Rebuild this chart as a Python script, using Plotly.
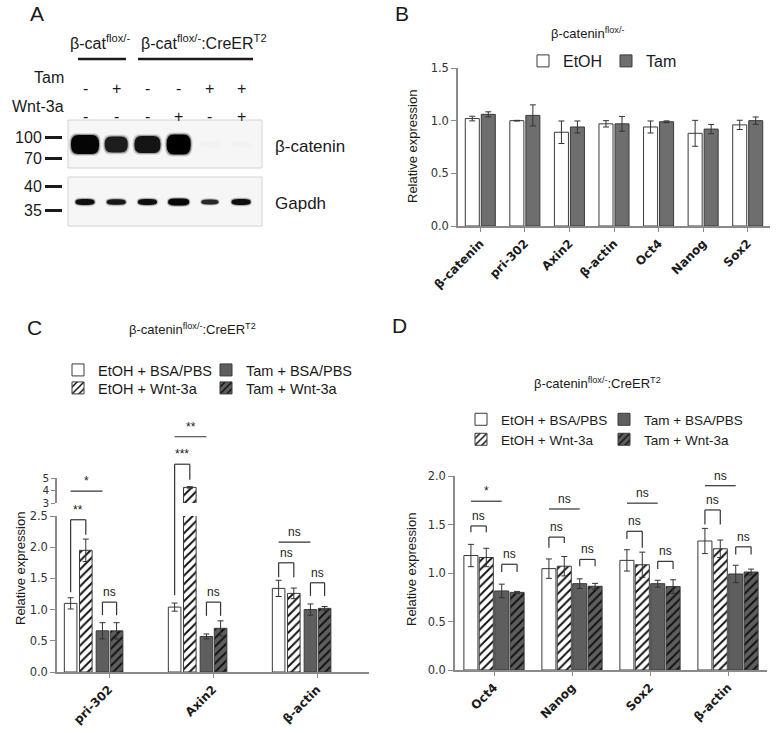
import math
import plotly.graph_objects as go

W, H = 780, 733

# ======================= DATA =======================
# Panel A - western blot, lanes 1..6
lanes = [1, 2, 3, 4, 5, 6]
tam_signs = ['-', '+', '-', '-', '+', '+']
wnt_signs = ['-', '-', '-', '+', '-', '+']
bcat_signal = [1.0, 0.85, 0.9, 1.05, 0.012, 0.012]
gapdh_signal = [0.85, 0.8, 0.85, 1.0, 0.7, 0.85]
bcat_mw = 88.0
gapdh_mw = 36.6
ladder_top = [100, 70]
ladder_bottom = [40, 35]

# Panel B
genes_B = ['β-catenin', 'pri-302', 'Axin2', 'β-actin', 'Oct4', 'Nanog', 'Sox2']
B_etoh = [1.02, 1.00, 0.89, 0.97, 0.94, 0.88, 0.96]
B_etoh_err = [0.022, 0.003, 0.107, 0.03, 0.057, 0.123, 0.044]
B_tam = [1.06, 1.05, 0.94, 0.97, 0.99, 0.92, 1.00]
B_tam_err = [0.024, 0.10, 0.057, 0.07, 0.008, 0.044, 0.035]

# Panel C
genes_C = ['pri-302', 'Axin2', 'β-actin']
C_etoh_bsa = [1.10, 1.04, 1.34]
C_etoh_bsa_err = [0.09, 0.065, 0.13]
C_etoh_wnt = [1.95, 4.25, 1.26]
C_etoh_wnt_err = [0.18, 0.06, 0.085]
C_tam_bsa = [0.66, 0.57, 1.00]
C_tam_bsa_err = [0.13, 0.04, 0.09]
C_tam_wnt = [0.66, 0.70, 1.02]
C_tam_wnt_err = [0.13, 0.12, 0.03]

# Panel D
genes_D = ['Oct4', 'Nanog', 'Sox2', 'β-actin']
D_etoh_bsa = [1.18, 1.045, 1.13, 1.33]
D_etoh_bsa_err = [0.115, 0.10, 0.11, 0.13]
D_etoh_wnt = [1.16, 1.07, 1.085, 1.25]
D_etoh_wnt_err = [0.095, 0.10, 0.13, 0.09]
D_tam_bsa = [0.815, 0.89, 0.89, 0.99]
D_tam_bsa_err = [0.07, 0.05, 0.035, 0.09]
D_tam_wnt = [0.80, 0.863, 0.86, 1.01]
D_tam_wnt_err = [0.01, 0.03, 0.07, 0.03]

series_names = ['EtOH + BSA/PBS', 'EtOH + Wnt-3a', 'Tam + BSA/PBS', 'Tam + Wnt-3a']

# significance marks: (category, bar i, bar j, label, level, leg_i, leg_j); legs None -> plain line
C_sig = [
    (0, 0, 1, '**', 2.44, 1.28, 2.20),
    (0, 0, 2, '*', 2.90, None, None),
    (0, 2, 3, 'ns', 1.12, 0.91, 0.91),
    (1, 0, 2, '**', 3.77, None, None),
    (1, 0, 1, '***', 3.33, 1.23, 3.08),
    (1, 2, 3, 'ns', 1.12, 0.90, 0.90),
    (2, 0, 2, 'ns', 2.08, None, None),
    (2, 0, 1, 'ns', 1.75, 1.52, 1.52),
    (2, 2, 3, 'ns', 1.43, 1.22, 1.22),
]
D_sig = [
    (0, 0, 2, '*', 1.74, None, None),
    (0, 0, 1, 'ns', 1.485, 1.42, 1.42),
    (0, 2, 3, 'ns', 1.09, 1.01, 1.01),
    (1, 0, 2, 'ns', 1.66, None, None),
    (1, 0, 1, 'ns', 1.37, 1.26, 1.31),
    (1, 2, 3, 'ns', 1.14, 1.07, 1.07),
    (2, 0, 2, 'ns', 1.72, None, None),
    (2, 0, 1, 'ns', 1.43, 1.35, 1.26),
    (2, 2, 3, 'ns', 1.12, 1.04, 1.04),
    (3, 0, 2, 'ns', 1.90, None, None),
    (3, 0, 1, 'ns', 1.65, 1.50, 1.50),
    (3, 2, 3, 'ns', 1.27, 1.19, 1.19),
]

# ======================= STYLE / GEOMETRY =======================
FONT = 'Liberation Sans, Arial, sans-serif'
TFONT = 'DejaVu Sans, Verdana, sans-serif'
AXC = '#8a8a8a'
INK = '#1a1a1a'
EDGE = '#3a3a3a'
LINEC = '#333333'

B_XPX, B_YPX, B_RANGE = (458, 770), (226, 68), (0, 1.5)
C_XPX, C_LOW_YPX, C_LOW_RANGE = (57, 369), (672, 516), (0, 2.5)
C_UP_YPX, C_UP_RANGE = (503, 478), (3, 5)
D_XPX, D_YPX, D_RANGE = (455, 767), (670, 476), (0, 2.0)

A_XPX = (63, 262)
A_LANE_RANGE = (0.295, 6.67)
A_TOP_YPX = (168, 120)
A_BOT_YPX = (226, 177)
A_TOP_RANGE = (1.7714, 2.1254)
A_BOT_RANGE = (1.5054, 1.6238)

B_width, B_offsets = 0.315, [-0.337, 0.022]
C_width, C_centers = 0.121, [-0.369, -0.223, -0.063, 0.073]
D_width, D_centers = 0.18, [-0.296, -0.099, 0.099, 0.296]


def xd(a, b):
    return [a / W, b / W]


def yd(bot, top):
    return [1 - bot / H, 1 - top / H]


def px(x):
    return x / W


def py(y):
    return 1 - y / H


fig = go.Figure()

ebar = dict(type='data', color=LINEC, thickness=1, width=3)


def style_for(k, tamcol):
    if k == 0:
        return dict(color='white', line=dict(color=EDGE, width=1))
    if k == 1:
        return dict(color='white', line=dict(color=EDGE, width=1),
                    pattern=dict(shape='/', fgcolor='#111111', bgcolor='white',
                                 size=6, solidity=0.32, fillmode='replace'))
    if k == 2:
        return dict(color=tamcol, line=dict(color=EDGE, width=1))
    return dict(color=tamcol, line=dict(color=EDGE, width=1),
                pattern=dict(shape='/', fgcolor='#111111', bgcolor=tamcol,
                             size=6, solidity=0.32, fillmode='replace'))


# ---------- Panel B bars ----------
for k, (nm, vals, errs, col) in enumerate([('EtOH', B_etoh, B_etoh_err, 'white'),
                                             ('Tam', B_tam, B_tam_err, '#6e6e6e')]):
    fig.add_trace(go.Bar(x=genes_B, y=vals, width=B_width, offset=B_offsets[k],
                         error_y=dict(ebar, array=errs), name=nm,
                         marker=dict(color=col, line=dict(color=EDGE, width=1)),
                         xaxis='x', yaxis='y', legend='legend'))

# ---------- Panel C bars (lower + upper broken axis) ----------
C_series = [(C_etoh_bsa, C_etoh_bsa_err), (C_etoh_wnt, C_etoh_wnt_err),
            (C_tam_bsa, C_tam_bsa_err), (C_tam_wnt, C_tam_wnt_err)]
C_leg = ['legend2', 'legend3', 'legend2', 'legend3']
for k, (vals, errs) in enumerate(C_series):
    mk = style_for(k, '#5e5e5e')
    off = C_centers[k] - C_width / 2
    fig.add_trace(go.Bar(x=genes_C, y=vals, width=C_width, offset=off,
                         error_y=dict(ebar, array=errs), name=series_names[k],
                         marker=mk, xaxis='x2', yaxis='y2', legend=C_leg[k]))
    fig.add_trace(go.Bar(x=genes_C, y=vals, width=C_width, offset=off,
                         error_y=dict(ebar, array=errs), name=series_names[k],
                         marker=mk, xaxis='x3', yaxis='y3', showlegend=False))

# ---------- Panel D bars ----------
D_series = [(D_etoh_bsa, D_etoh_bsa_err), (D_etoh_wnt, D_etoh_wnt_err),
            (D_tam_bsa, D_tam_bsa_err), (D_tam_wnt, D_tam_wnt_err)]
D_leg = ['legend4', 'legend5', 'legend4', 'legend5']
for k, (vals, errs) in enumerate(D_series):
    mk = style_for(k, '#5e5e5e')
    off = D_centers[k] - D_width / 2
    fig.add_trace(go.Bar(x=genes_D, y=vals, width=D_width, offset=off,
                         error_y=dict(ebar, array=errs), name=series_names[k],
                         marker=mk, xaxis='x4', yaxis='y4', legend=D_leg[k]))

# ---------- axes ----------
xcommon = dict(type='category', showline=True, linecolor=AXC, linewidth=1.5,
               ticks='outside', ticklen=4, tickcolor=AXC, tickangle=-45,
               tickfont=dict(family=TFONT, size=12, color=INK, weight='bold'),
               showgrid=False, zeroline=False, fixedrange=True, automargin=False)
ycommon = dict(showline=True, linecolor=AXC, linewidth=1.5, ticks='outside',
               ticklen=5, tickcolor=AXC, tickfont=dict(family=TFONT, size=11.5, color='#333'),
               showgrid=False, zeroline=False, fixedrange=True, automargin=False)
blotax = dict(ticks='outside', ticklen=17, tickwidth=3, tickcolor=INK, showline=False,
              showgrid=False, zeroline=False, tickfont=dict(family=FONT, size=16, color=INK),
              fixedrange=True, automargin=False)

fig.update_layout(
    xaxis=dict(xcommon, domain=xd(*B_XPX), anchor='y', range=[-0.5, 6.5],
               categoryorder='array', categoryarray=genes_B),
    yaxis=dict(ycommon, domain=yd(*B_YPX), anchor='x', range=list(B_RANGE),
               tickvals=[0, 0.5, 1.0, 1.5], tickformat='.1f'),
    xaxis2=dict(xcommon, domain=xd(*C_XPX), anchor='y2', range=[-0.5, 2.5],
                categoryorder='array', categoryarray=genes_C),
    yaxis2=dict(ycommon, domain=yd(*C_LOW_YPX), anchor='x2', range=list(C_LOW_RANGE),
                tickvals=[0, 0.5, 1.0, 1.5, 2.0, 2.5], tickformat='.1f'),
    xaxis3=dict(xcommon, domain=xd(*C_XPX), anchor='y3', range=[-0.5, 2.5],
                categoryorder='array', categoryarray=genes_C, visible=False),
    yaxis3=dict(ycommon, domain=yd(*C_UP_YPX), anchor='x3', range=list(C_UP_RANGE),
                tickvals=[3, 4, 5], tickformat='d', ticklen=4,
                tickfont=dict(family=TFONT, size=10.5, color='#333')),
    xaxis4=dict(xcommon, domain=xd(*D_XPX), anchor='y4', range=[-0.5, 3.5],
                categoryorder='array', categoryarray=genes_D),
    yaxis4=dict(ycommon, domain=yd(*D_YPX), anchor='x4', range=list(D_RANGE),
                tickvals=[0, 0.5, 1.0, 1.5, 2.0], tickformat='.1f'),
    xaxis5=dict(domain=xd(*A_XPX), anchor='y5', range=list(A_LANE_RANGE), visible=False,
                fixedrange=True, automargin=False),
    yaxis5=dict(blotax, domain=yd(*A_TOP_YPX), anchor='x5', range=list(A_TOP_RANGE),
                tickvals=[math.log10(v) for v in ladder_top],
                ticktext=[str(v) for v in ladder_top]),
    yaxis6=dict(blotax, domain=yd(*A_BOT_YPX), anchor='x5', range=list(A_BOT_RANGE),
                tickvals=[math.log10(v) for v in ladder_bottom],
                ticktext=[str(v) for v in ladder_bottom]),
)

# ---------- legends ----------
leg_common = dict(orientation='h', xanchor='left', yanchor='top', bgcolor='rgba(0,0,0,0)',
                  borderwidth=0, entrywidthmode='pixels')
fig.update_layout(
    legend=dict(leg_common, x=px(523), y=py(44), entrywidth=38,
                font=dict(family=FONT, size=16, color=INK)),
    legend2=dict(leg_common, x=px(58), y=py(354), entrywidth=103,
                 font=dict(family=FONT, size=14.5, color=INK)),
    legend3=dict(leg_common, x=px(58), y=py(372), entrywidth=103,
                 font=dict(family=FONT, size=14.5, color=INK)),
    legend4=dict(leg_common, x=px(461), y=py(404), entrywidth=98,
                 font=dict(family=FONT, size=13.5, color=INK)),
    legend5=dict(leg_common, x=px(461), y=py(424), entrywidth=98,
                 font=dict(family=FONT, size=13.5, color=INK)),
)

# ---------- significance brackets ----------
def add_sig(sig, xref, centers, ypx, yrange):
    ybot, ytop = ypx
    r0, r1 = yrange

    def yp(v):
        return py(ybot - (v - r0) / (r1 - r0) * (ybot - ytop))

    ln = dict(color=LINEC, width=1.2)
    for cat, i, j, lab, lev, li, lj in sig:
        xi, xj = cat + centers[i], cat + centers[j]
        fig.add_shape(type='line', xref=xref, yref='paper', x0=xi, x1=xj,
                      y0=yp(lev), y1=yp(lev), line=ln)
        if li is not None:
            fig.add_shape(type='line', xref=xref, yref='paper', x0=xi, x1=xi,
                          y0=yp(li), y1=yp(lev), line=ln)
            fig.add_shape(type='line', xref=xref, yref='paper', x0=xj, x1=xj,
                          y0=yp(lj), y1=yp(lev), line=ln)
        fig.add_annotation(x=(xi + xj) / 2, xref=xref, y=yp(lev) + 1.0 / H, yref='paper',
                           yanchor='bottom', text=lab, showarrow=False,
                           font=dict(family=FONT, size=12, color=INK))


add_sig(C_sig, 'x2', C_centers, C_LOW_YPX, C_LOW_RANGE)
add_sig(D_sig, 'x4', D_centers, D_YPX, D_RANGE)

# ---------- Panel A blot ----------
for (bot, top) in [(168, 120), (226, 177)]:
    fig.add_shape(type='rect', xref='paper', yref='paper', x0=px(68), x1=px(262),
                  y0=py(bot), y1=py(top), fillcolor='#f6f6f6',
                  line=dict(color='#d4d4d4', width=1), layer='below')

lane_px = (A_XPX[1] - A_XPX[0]) / (A_LANE_RANGE[1] - A_LANE_RANGE[0])
bcat_w_px = [28, 23, 26, 24, 20, 20]
gapdh_w_px = [19, 19, 19, 21, 17, 19]


def band(yref, ypx, yrange, lane, mw, wpx, hpx, alpha):
    unit_px = (ypx[0] - ypx[1]) / (yrange[1] - yrange[0])
    yc = math.log10(mw)
    hw = wpx / 2 / lane_px
    hh = hpx / 2 / unit_px
    rx = min(wpx / 2, 7) / lane_px
    ry = hh * 0.9
    x0, x1 = lane - hw, lane + hw
    y0, y1 = yc - hh, yc + hh
    path = (f'M {x0 + rx},{y0} L {x1 - rx},{y0} Q {x1},{y0} {x1},{y0 + ry} '
            f'L {x1},{y1 - ry} Q {x1},{y1} {x1 - rx},{y1} L {x0 + rx},{y1} '
            f'Q {x0},{y1} {x0},{y1 - ry} L {x0},{y0 + ry} Q {x0},{y0} {x0 + rx},{y0} Z')
    fig.add_shape(type='path', xref='x5', yref=yref, path=path, fillcolor='black',
                  line=dict(width=0), opacity=max(0.0, min(1.0, alpha)))


for li, lane in enumerate(lanes):
    s = bcat_signal[li]
    for grow, a in [(2, 0.12), (1, 0.3), (0, 0.97)]:
        band('y5', A_TOP_YPX, A_TOP_RANGE, lane, bcat_mw, bcat_w_px[li] + 2 * grow,
             19 * max(s, 0.3) + 2 * grow, a * s)
    g = gapdh_signal[li]
    for grow, a in [(1.5, 0.12), (0.7, 0.3), (0, 0.95)]:
        band('y6', A_BOT_YPX, A_BOT_RANGE, lane, gapdh_mw, gapdh_w_px[li] + 2 * grow,
             7 * g + 2 * grow, a * min(1, g + 0.1))

# lane treatment signs
for li, lane in enumerate(lanes):
    for sign, yy in [(tam_signs[li], 78), (wnt_signs[li], 106)]:
        fig.add_annotation(x=lane, xref='x5', y=py(yy), yref='paper', text=sign,
                           showarrow=False, font=dict(family=FONT, size=16, color=INK))


def txt(x, y, text, size, xanchor='center', angle=0, color=INK):
    fig.add_annotation(x=px(x), y=py(y), xref='paper', yref='paper', text=text,
                       showarrow=False, xanchor=xanchor, yanchor='middle', textangle=angle,
                       font=dict(family=FONT, size=size, color=color))


txt(66, 78, 'Tam', 16, 'right')
txt(66, 106, 'Wnt-3a', 16, 'right')
txt(100, 42, 'β-cat<sup>flox/-</sup>', 16)
txt(204, 42, 'β-cat<sup>flox/-</sup>:CreER<sup>T2</sup>', 16)
for x0, x1 in [(78, 126), (138, 253)]:
    fig.add_shape(type='line', xref='paper', yref='paper', x0=px(x0), x1=px(x1),
                  y0=py(59), y1=py(59), line=dict(color=INK, width=2.5))
txt(273, 146, 'β-catenin', 17, 'left')
txt(273, 204, 'Gapdh', 17, 'left')

# panel letters
txt(37, 14, 'A', 21)
txt(402, 14, 'B', 21)
txt(34, 327, 'C', 21)
txt(400, 326, 'D', 21)

# panel titles
txt(587, 33, 'β-catenin<sup>flox/-</sup>', 13)
txt(192, 329, 'β-catenin<sup>flox/-</sup>:CreER<sup>T2</sup>', 13)
txt(597, 383, 'β-catenin<sup>flox/-</sup>:CreER<sup>T2</sup>', 13)

# y-axis titles
txt(412, 147, 'Relative expression', 13, angle=-90)
txt(20, 569, 'Relative expression', 13, angle=-90)
txt(411, 570, 'Relative expression', 13, angle=-90)

fig.update_layout(width=W, height=H, margin=dict(l=0, r=0, t=0, b=0, autoexpand=False),
                  paper_bgcolor='white', plot_bgcolor='rgba(0,0,0,0)',
                  barmode='overlay', showlegend=True,
                  font=dict(family=FONT, color=INK))

fig.write_html('out.html', config={'displayModeBar': False},
               post_script="document.body.style.margin='0';document.body.style.padding='0';"
                           "document.documentElement.style.overflow='hidden';")
